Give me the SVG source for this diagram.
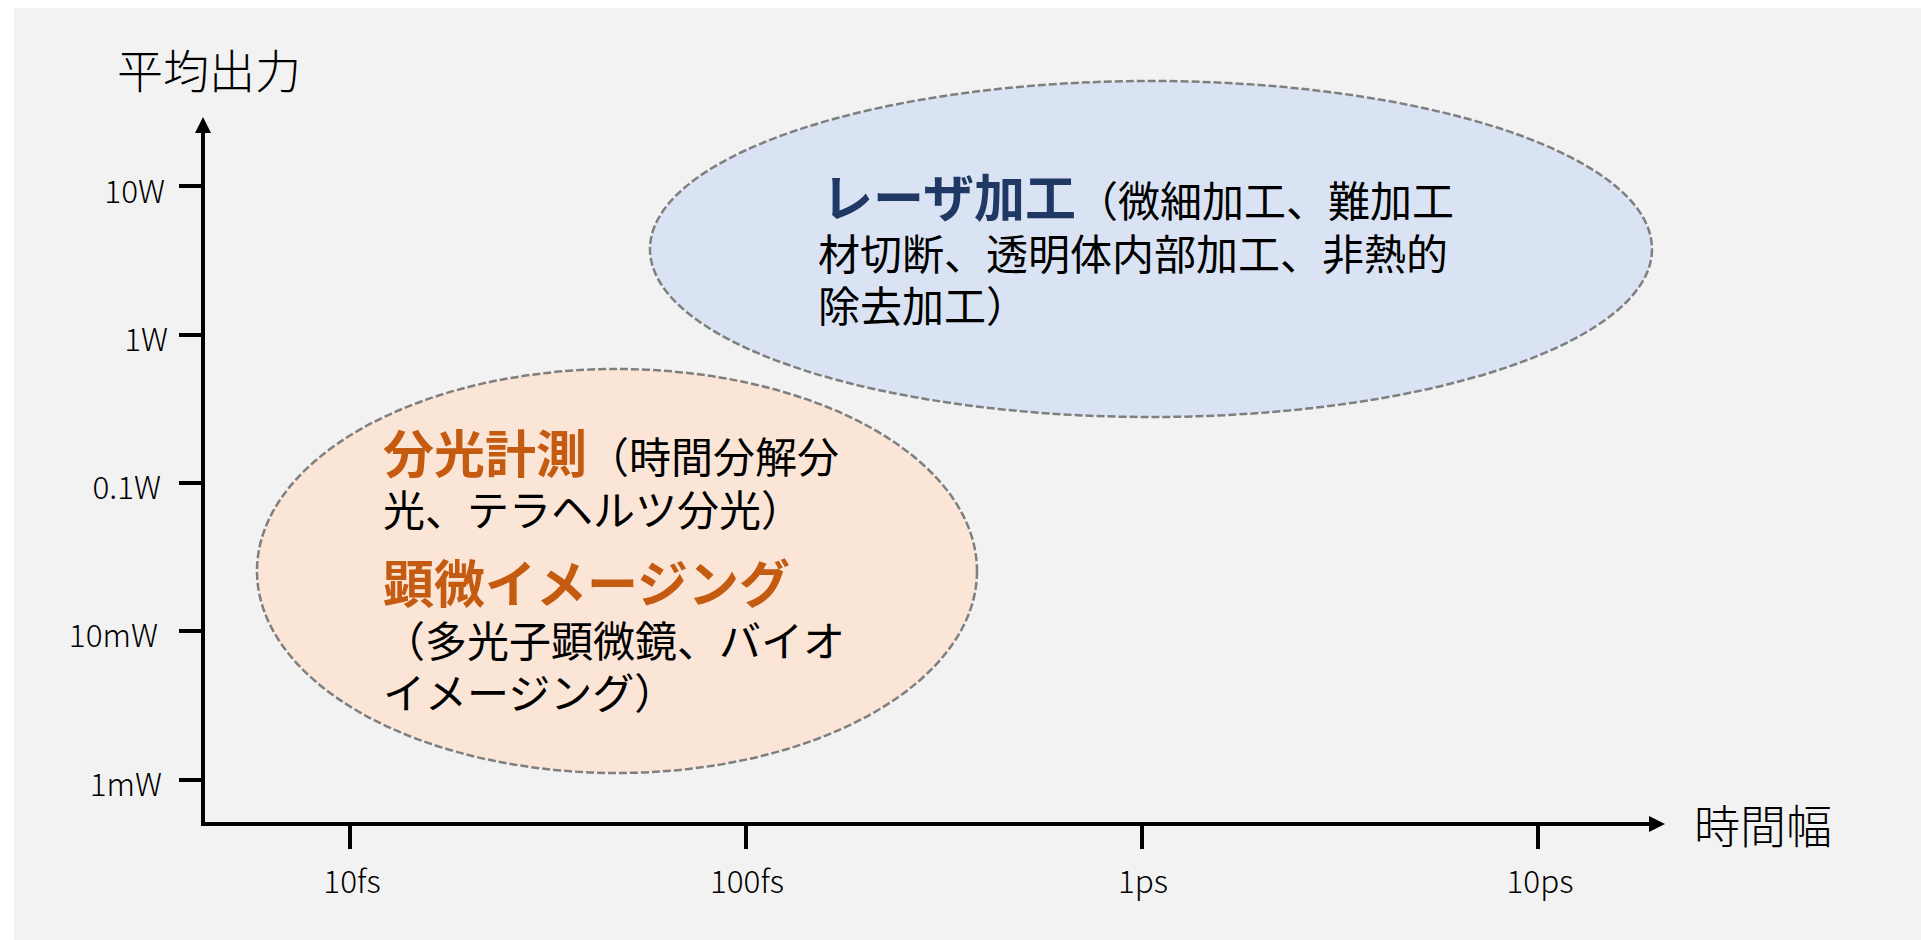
<svg xmlns="http://www.w3.org/2000/svg" width="1921" height="940" viewBox="0 0 1921 940">
<style>
.bg{fill:#f2f2f2}
.axis{stroke:#000;stroke-width:4;fill:none}
.tick{stroke:#000;stroke-width:4}
.lbl{font-family:"Noto Sans CJK JP","Noto Sans",sans-serif;font-size:31.5px;font-weight:300;fill:#000}
.title{font-family:"Noto Sans CJK JP",sans-serif;font-size:46px;font-weight:300;fill:#000}
.region{stroke:#7f7f7f;stroke-width:2.5;stroke-dasharray:8 3}
.body{font-family:"Noto Sans CJK JP",sans-serif;font-size:42px;font-weight:400;fill:#000}
.head{font-size:51px;font-weight:700}
.navy{fill:#203864}
.orange{fill:#c55a11}
</style>
<defs>
<marker id="arr" viewBox="0 0 10 10" refX="0" refY="5" markerWidth="4" markerHeight="4" markerUnits="strokeWidth" orient="auto">
<path d="M0,0 L10,5 L0,10 Z" fill="#000"/>
</marker>
</defs>
<rect class="bg" x="14" y="8" width="1907" height="932"/>

<g id="laser-region">
<ellipse class="region" cx="1151" cy="249" rx="501" ry="168" fill="#dae3f3"/>
<text class="body" x="822" y="217"><tspan class="head navy">レーザ加工</tspan><tspan>（微細加工、難加工</tspan></text>
<text class="body" x="818" y="270">材切断、透明体内部加工、非熱的</text>
<text class="body" x="818" y="322">除去加工）</text>
</g>

<g id="spectro-region">
<ellipse class="region" cx="617" cy="571" rx="360" ry="202" fill="#fbe5d6"/>
<text class="body" x="383" y="473"><tspan class="head orange">分光計測</tspan><tspan>（時間分解分</tspan></text>
<text class="body" x="383" y="526">光、テラヘルツ分光）</text>
<text class="body head orange" x="383" y="603">顕微イメージング</text>
<text class="body" x="383" y="657">（多光子顕微鏡、バイオ</text>
<text class="body" x="383" y="709">イメージング）</text>
</g>

<g id="axes">
<line class="axis" x1="203" y1="826" x2="203" y2="133" marker-end="url(#arr)"/>
<line class="axis" x1="201" y1="824" x2="1649" y2="824" marker-end="url(#arr)"/>
<line class="tick" x1="179" y1="186" x2="203" y2="186"/>
<line class="tick" x1="179" y1="335" x2="203" y2="335"/>
<line class="tick" x1="179" y1="483" x2="203" y2="483"/>
<line class="tick" x1="179" y1="631" x2="203" y2="631"/>
<line class="tick" x1="179" y1="780" x2="203" y2="780"/>
<line class="tick" x1="350" y1="824" x2="350" y2="849"/>
<line class="tick" x1="746" y1="824" x2="746" y2="849"/>
<line class="tick" x1="1142" y1="824" x2="1142" y2="849"/>
<line class="tick" x1="1538" y1="824" x2="1538" y2="849"/>
</g>

<g id="axis-labels">
<text class="title" x="117" y="88">平均出力</text>
<text class="title" x="1694" y="843">時間幅</text>
<text class="lbl" x="165" y="203" text-anchor="end">10W</text>
<text class="lbl" x="168" y="351" text-anchor="end">1W</text>
<text class="lbl" x="161" y="499" text-anchor="end">0.1W</text>
<text class="lbl" x="158" y="647" text-anchor="end">10mW</text>
<text class="lbl" x="162" y="796" text-anchor="end">1mW</text>
<text class="lbl" x="352" y="893" text-anchor="middle">10fs</text>
<text class="lbl" x="747" y="893" text-anchor="middle">100fs</text>
<text class="lbl" x="1143" y="893" text-anchor="middle">1ps</text>
<text class="lbl" x="1540" y="893" text-anchor="middle">10ps</text>
</g>
</svg>
